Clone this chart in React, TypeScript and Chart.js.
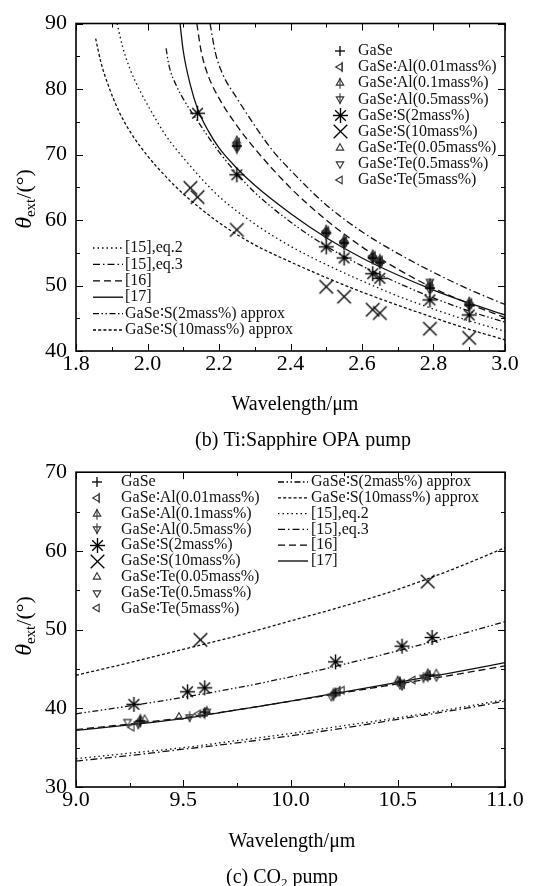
import React, { useEffect, useRef } from "react";
import { Chart, registerables } from "chart.js";

Chart.register(...registerables);

const FONT = "'Liberation Serif', 'Times New Roman', serif";

// ---------------- (b) Ti:Sapphire OPA pump ----------------
const bEq2X = [1.915, 1.93, 1.95, 1.98, 2.0, 2.05, 2.1, 2.2, 2.3, 2.4, 2.5, 2.6, 2.7, 2.8, 2.9, 3.0];
const bEq2Y = [90, 86.5, 83.2, 79.6, 77.6, 73.0, 69.5, 63.6, 59.4, 56.0, 53.2, 50.7, 48.4, 46.4, 44.6, 43.0];
const bEq3X = [2.175, 2.19, 2.21, 2.25, 2.3, 2.35, 2.4, 2.5, 2.6, 2.7, 2.8, 2.9, 3.0];
const bEq3Y = [90, 85.5, 82.3, 78.6, 74.4, 70.6, 67.6, 62.3, 58.2, 54.9, 52.0, 49.4, 47.1];
const b16X = [2.138, 2.15, 2.17, 2.2, 2.25, 2.3, 2.4, 2.5, 2.6, 2.7, 2.8, 2.9, 3.0];
const b16Y = [90, 85.8, 82.0, 78.6, 74.4, 70.9, 64.9, 60.0, 55.9, 52.5, 49.6, 47.2, 45.1];
const b17X = [2.091, 2.1, 2.12, 2.14, 2.17, 2.2, 2.25, 2.3, 2.4, 2.5, 2.6, 2.7, 2.8, 2.9, 3.0];
const b17Y = [90, 85.8, 80.6, 77.0, 73.6, 71.0, 67.9, 65.3, 61.0, 57.3, 54.2, 51.6, 49.3, 47.3, 45.5];
const bS2X = [2.052, 2.06, 2.08, 2.1, 2.15, 2.2, 2.25, 2.3, 2.4, 2.5, 2.6, 2.7, 2.8, 2.9, 3.0];
const bS2Y = [86.2, 83.6, 80.6, 78.5, 74.3, 70.4, 67.1, 64.2, 59.7, 56.0, 53.0, 50.4, 48.1, 46.1, 44.4];
const bS10X = [1.855, 1.87, 1.89, 1.92, 1.95, 2.0, 2.05, 2.1, 2.2, 2.3, 2.4, 2.5, 2.6, 2.7, 2.8, 2.9, 3.0];
const bS10Y = [87.7, 84.0, 80.6, 76.6, 73.6, 69.8, 66.7, 64.0, 59.6, 56.2, 53.6, 51.2, 49.0, 47.0, 45.1, 43.3, 41.7];

const bMarkX = [2.25, 2.5, 2.55, 2.63, 2.65, 2.79, 2.9];
const bGaSeY = [71.3, 58.0, 56.5, 54.2, 53.5, 49.6, 47.0];
const bAl001Y = [71.8, 58.3, 56.8, 54.5, 53.8, 50.0, 47.3];
const bAl01Y = [72.1, 58.5, 57.0, 54.7, 54.0, 50.3, 47.5];
const bAl05Y = [70.9, 57.7, 56.2, 54.0, 53.3, 49.3, 46.8];
const bTe005Y = [71.6, 58.2, 56.7, 54.4, 53.7, 49.9, 47.2];
const bTe05Y = [71.1, 57.9, 56.4, 54.1, 53.4, 50.6, 47.0];
const bTe5Y = [71.4, 58.1, 56.6, 54.3, 53.6, 49.7, 47.1];
const bS2PX = [2.14, 2.25, 2.5, 2.55, 2.63, 2.65, 2.79, 2.9];
const bS2PY = [76.3, 66.9, 55.9, 54.2, 51.8, 51.1, 47.8, 45.5];
const bS10PX = [2.12, 2.14, 2.25, 2.5, 2.55, 2.63, 2.65, 2.79, 2.9];
const bS10PY = [64.9, 63.5, 58.5, 49.8, 48.3, 46.3, 45.8, 43.4, 42.0];

// ---------------- (c) CO2 pump ----------------
const cX = [9.0, 9.25, 9.5, 9.75, 10.0, 10.25, 10.5, 10.75, 11.0];
const cS10Y = [44.2, 45.8, 47.5, 49.2, 51.1, 53.0, 55.1, 57.6, 60.4];
const cS2Y = [39.3, 40.3, 41.4, 42.6, 44.0, 45.6, 47.3, 49.1, 51.0];
const c17Y = [37.2, 37.9, 38.7, 39.8, 40.9, 42.1, 43.3, 44.5, 45.8];
const c16Y = [37.3, 38.0, 38.8, 39.8, 40.9, 42.0, 43.1, 44.2, 45.4];
const cEq2Y = [33.6, 34.3, 35.0, 35.9, 36.8, 37.8, 38.8, 39.9, 41.1];
const cEq3Y = [33.3, 34.0, 34.8, 35.6, 36.5, 37.5, 38.6, 39.7, 40.9];

const cGaSeX = [9.3, 9.6, 10.21, 10.51, 10.65];
const cGaSeY = [38.4, 39.5, 42.0, 43.4, 44.2];
const cAl001X = [9.29, 9.59, 10.22, 10.52, 10.63];
const cAl001Y = [38.2, 39.3, 42.2, 43.1, 44.0];
const cAl01X = [9.3, 9.61, 10.2, 10.5, 10.64];
const cAl01Y = [38.6, 39.6, 41.9, 43.5, 44.4];
const cAl05X = [9.29, 9.53, 10.2, 10.52, 10.62];
const cAl05Y = [38.0, 38.9, 41.6, 42.9, 43.9];
const cTe005X = [9.32, 9.48, 10.21, 10.51, 10.68];
const cTe005Y = [38.6, 38.9, 41.9, 43.3, 44.4];
const cTe05X = [9.24, 9.61, 10.19, 10.51, 10.68];
const cTe05Y = [38.3, 39.6, 41.5, 43.0, 44.0];
const cTe5X = [9.26, 9.57, 10.24, 10.57, 10.63];
const cTe5Y = [37.6, 39.3, 42.3, 43.6, 44.1];
const cS2PX = [9.27, 9.52, 9.6, 10.21, 10.52, 10.66];
const cS2PY = [40.5, 42.1, 42.6, 45.9, 47.9, 49.0];
const cS10PX = [9.58, 10.64];
const cS10PY = [48.7, 56.1];

// ---------------- labels ----------------
const MARKER_KINDS = ["plus", "alLeft", "alUp", "alDown", "star", "cross", "triUp", "triDown", "triLeft"];
const MARKER_LABELS = [
  "GaSe",
  "GaSe∶Al(0.01mass%)",
  "GaSe∶Al(0.1mass%)",
  "GaSe∶Al(0.5mass%)",
  "GaSe∶S(2mass%)",
  "GaSe∶S(10mass%)",
  "GaSe∶Te(0.05mass%)",
  "GaSe∶Te(0.5mass%)",
  "GaSe∶Te(5mass%)",
];
const LBL_EQ2 = "[15],eq.2";
const LBL_EQ3 = "[15],eq.3";
const LBL_16 = "[16]";
const LBL_17 = "[17]";
const LBL_S2 = "GaSe∶S(2mass%) approx";
const LBL_S10 = "GaSe∶S(10mass%) approx";

const DASH: Record<string, number[]> = {
  [LBL_EQ2]: [1.5, 3],
  [LBL_EQ3]: [7, 3, 1.5, 3],
  [LBL_16]: [7, 4],
  [LBL_17]: [],
  [LBL_S2]: [6, 2.5, 1.5, 2.5, 1.5, 2.5],
  [LBL_S10]: [3, 2.2],
};

function makeMarker(kind: string): HTMLCanvasElement {
  const big = kind === "star" || kind === "cross";
  const s = big ? 17 : 12;
  const c = document.createElement("canvas");
  c.width = s;
  c.height = s;
  const g = c.getContext("2d")!;
  const m = s / 2;
  g.strokeStyle = big || kind === "plus" ? "#000" : "#333";
  g.fillStyle = "#000";
  g.lineWidth = 1.1;
  const tri = (rot: number, r: number) => {
    g.beginPath();
    for (let k = 0; k < 3; k++) {
      const a = rot + (k * 2 * Math.PI) / 3;
      const px = m + r * Math.sin(a);
      const py = m - r * Math.cos(a);
      if (k) g.lineTo(px, py);
      else g.moveTo(px, py);
    }
    g.closePath();
    g.stroke();
  };
  const seg = (x1: number, y1: number, x2: number, y2: number) => {
    g.beginPath();
    g.moveTo(x1, y1);
    g.lineTo(x2, y2);
    g.stroke();
  };
  const r = 4.3;
  switch (kind) {
    case "plus":
      g.lineWidth = 1.3;
      seg(m - 5, m, m + 5, m);
      seg(m, m - 5, m, m + 5);
      break;
    case "alLeft":
      tri(-Math.PI / 2, r);
      seg(m + r / 2, m - r - 1, m + r / 2, m + r + 1);
      break;
    case "alUp":
      tri(0, r);
      seg(m, m - r - 1, m, m + r + 1.5);
      break;
    case "alDown":
      tri(Math.PI, r);
      seg(m, m - r - 1.5, m, m + r + 1);
      break;
    case "triUp":
      tri(0, r);
      break;
    case "triDown":
      tri(Math.PI, r);
      break;
    case "triLeft":
      tri(-Math.PI / 2, r);
      break;
    case "star": {
      g.lineWidth = 1.4;
      const R = 7.5;
      for (let k = 0; k < 4; k++) {
        const a = (k * Math.PI) / 4;
        seg(m - R * Math.cos(a), m - R * Math.sin(a), m + R * Math.cos(a), m + R * Math.sin(a));
      }
      g.beginPath();
      g.arc(m, m, 1.8, 0, Math.PI * 2);
      g.fill();
      break;
    }
    case "cross": {
      g.lineWidth = 1.3;
      const R = 6.8;
      seg(m - R, m - R, m + R, m + R);
      seg(m - R, m + R, m + R, m - R);
      break;
    }
  }
  return c;
}

type Seg = { t: string; size: number; italic?: boolean; dy?: number };

function drawRich(ctx: CanvasRenderingContext2D, segs: Seg[], cx: number, y: number) {
  const fontOf = (s: Seg) => `${s.italic ? "italic " : ""}${s.size}px ${FONT}`;
  let total = 0;
  for (const s of segs) {
    ctx.font = fontOf(s);
    total += ctx.measureText(s.t).width;
  }
  let x = cx - total / 2;
  ctx.textAlign = "left";
  ctx.textBaseline = "alphabetic";
  for (const s of segs) {
    ctx.font = fontOf(s);
    ctx.fillText(s.t, x, y + (s.dy || 0));
    x += ctx.measureText(s.t).width;
  }
}

const decoPlugin = {
  id: "deco",
  afterDraw(chart: any) {
    const o = chart.options.plugins.deco;
    if (!o) return;
    const { ctx, chartArea: a, scales } = chart;
    const xs = scales.x;
    const ys = scales.y;
    ctx.save();
    ctx.strokeStyle = "#000";
    ctx.lineWidth = 1;
    const seg = (x1: number, y1: number, x2: number, y2: number) => {
      ctx.beginPath();
      ctx.moveTo(x1, y1);
      ctx.lineTo(x2, y2);
      ctx.stroke();
    };
    const nx = Math.round((o.xMax - o.xMin) / o.xMinor);
    const perX = Math.round(o.xStep / o.xMinor);
    for (let i = 0; i <= nx; i++) {
      const px = Math.round(xs.getPixelForValue(o.xMin + i * o.xMinor)) + 0.5;
      const len = i % perX === 0 ? 7 : 4;
      seg(px, a.bottom, px, a.bottom - len);
      seg(px, a.top, px, a.top + len);
    }
    const ny = Math.round((o.yMax - o.yMin) / o.yMinor);
    const perY = Math.round(o.yStep / o.yMinor);
    for (let i = 0; i <= ny; i++) {
      const py = Math.round(ys.getPixelForValue(o.yMin + i * o.yMinor)) + 0.5;
      const len = i % perY === 0 ? 7 : 4;
      seg(a.left, py, a.left + len, py);
      seg(a.right, py, a.right - len, py);
    }
    ctx.lineWidth = 1.6;
    ctx.strokeRect(a.left, a.top, a.right - a.left, a.bottom - a.top);

    // legends
    ctx.fillStyle = "#111";
    ctx.font = `16px ${FONT}`;
    ctx.textBaseline = "middle";
    ctx.textAlign = "left";
    const mk = o.markerLegend;
    mk.items.forEach((it: any, i: number) => {
      const y = mk.y0 + i * mk.dy;
      const img: HTMLCanvasElement = it.img;
      ctx.drawImage(img, Math.round(mk.x - img.width / 2), Math.round(y - img.height / 2));
      ctx.fillText(it.label, mk.textX, y);
    });
    const ln = o.lineLegend;
    ln.items.forEach((label: string, i: number) => {
      const y = ln.y0 + i * ln.dy;
      ctx.save();
      ctx.lineWidth = 1.3;
      ctx.setLineDash(DASH[label]);
      seg(ln.x1, y, ln.x2, y);
      ctx.restore();
      ctx.fillText(label, ln.textX, y);
    });

    // titles
    ctx.fillStyle = "#000";
    drawRich(ctx, [{ t: "Wavelength/μm", size: 20 }], o.xTitle.x, o.xTitle.y);
    drawRich(ctx, o.caption.segs, o.caption.x, o.caption.y);
    ctx.save();
    ctx.translate(o.yTitle.x, o.yTitle.y);
    ctx.rotate(-Math.PI / 2);
    drawRich(
      ctx,
      [
        { t: "θ", size: 24, italic: true },
        { t: "ext", size: 15, dy: 4 },
        { t: "/(°)", size: 22 },
      ],
      0,
      0
    );
    ctx.restore();
    ctx.restore();
  },
};

function pts(xs: number[], ys: number[]) {
  return xs.map((x, i) => ({ x, y: ys[i] }));
}

type Spec = {
  xMin: number;
  xMax: number;
  xStep: number;
  xMinor: number;
  yMin: number;
  yMax: number;
  yStep: number;
  yMinor: number;
  padTop: number;
  curves: { label: string; xs: number[]; ys: number[] }[];
  marks: { xs: number[]; ys: number[] }[]; // in MARKER_KINDS order
  markerLegend: { x: number; textX: number; y0: number; dy: number };
  lineLegend: { x1: number; x2: number; textX: number; y0: number; dy: number; items: string[] };
  xTitle: { x: number; y: number };
  yTitle: { x: number; y: number };
  caption: { x: number; y: number; segs: Seg[] };
};

function buildConfig(spec: Spec): any {
  const imgs = MARKER_KINDS.map(makeMarker);
  const datasets: any[] = [];
  spec.curves.forEach((c) => {
    datasets.push({
      type: "line",
      label: c.label,
      data: pts(c.xs, c.ys),
      borderColor: "#111",
      borderWidth: 1.3,
      borderDash: DASH[c.label],
      pointRadius: 0,
      fill: false,
      cubicInterpolationMode: "monotone",
      order: 2,
    });
  });
  spec.marks.forEach((m, i) => {
    datasets.push({
      type: "line",
      label: MARKER_LABELS[i],
      data: pts(m.xs, m.ys),
      showLine: false,
      pointStyle: imgs[i],
      pointRadius: 4,
      order: 1,
    });
  });
  const tickFont = { family: FONT, size: 22 };
  return {
    type: "line",
    data: { datasets },
    options: {
      animation: false,
      responsive: false,
      events: [],
      layout: { padding: { left: 40, right: 37, top: spec.padTop, bottom: 69 } },
      scales: {
        x: {
          type: "linear",
          min: spec.xMin,
          max: spec.xMax,
          grid: { display: false, drawTicks: false },
          border: { display: false },
          ticks: {
            stepSize: spec.xStep,
            autoSkip: false,
            maxRotation: 0,
            padding: 0,
            color: "#000",
            font: tickFont,
            callback: (v: any) => Number(v).toFixed(1),
          },
          afterFit: (s: any) => {
            s.height = 30;
          },
        },
        y: {
          type: "linear",
          min: spec.yMin,
          max: spec.yMax,
          grid: { display: false, drawTicks: false },
          border: { display: false },
          ticks: {
            stepSize: spec.yStep,
            autoSkip: false,
            padding: 9,
            color: "#000",
            font: tickFont,
            callback: (v: any) => String(Math.round(Number(v))),
          },
          afterFit: (s: any) => {
            s.width = 36;
          },
        },
      },
      plugins: {
        legend: { display: false },
        tooltip: { enabled: false },
        deco: {
          xMin: spec.xMin,
          xMax: spec.xMax,
          xStep: spec.xStep,
          xMinor: spec.xMinor,
          yMin: spec.yMin,
          yMax: spec.yMax,
          yStep: spec.yStep,
          yMinor: spec.yMinor,
          markerLegend: {
            ...spec.markerLegend,
            items: MARKER_LABELS.map((label, i) => ({ label, img: imgs[i] })),
          },
          lineLegend: spec.lineLegend,
          xTitle: spec.xTitle,
          yTitle: spec.yTitle,
          caption: spec.caption,
        },
      },
    },
    plugins: [decoPlugin],
  };
}

const specB: Spec = {
  xMin: 1.8,
  xMax: 3.0,
  xStep: 0.2,
  xMinor: 0.1,
  yMin: 40,
  yMax: 90,
  yStep: 10,
  yMinor: 5,
  padTop: 23.5,
  curves: [
    { label: LBL_EQ2, xs: bEq2X, ys: bEq2Y },
    { label: LBL_EQ3, xs: bEq3X, ys: bEq3Y },
    { label: LBL_16, xs: b16X, ys: b16Y },
    { label: LBL_17, xs: b17X, ys: b17Y },
    { label: LBL_S2, xs: bS2X, ys: bS2Y },
    { label: LBL_S10, xs: bS10X, ys: bS10Y },
  ],
  marks: [
    { xs: bMarkX, ys: bGaSeY },
    { xs: bMarkX, ys: bAl001Y },
    { xs: bMarkX, ys: bAl01Y },
    { xs: bMarkX, ys: bAl05Y },
    { xs: bS2PX, ys: bS2PY },
    { xs: bS10PX, ys: bS10PY },
    { xs: bMarkX, ys: bTe005Y },
    { xs: bMarkX, ys: bTe05Y },
    { xs: bMarkX, ys: bTe5Y },
  ],
  markerLegend: { x: 340, textX: 358, y0: 51, dy: 16.1 },
  lineLegend: { x1: 93, x2: 123, textX: 125, y0: 248, dy: 16.4, items: [LBL_EQ2, LBL_EQ3, LBL_16, LBL_17, LBL_S2, LBL_S10] },
  xTitle: { x: 295, y: 410 },
  yTitle: { x: 31, y: 199 },
  caption: { x: 303, y: 446, segs: [{ t: "(b) Ti:Sapphire OPA pump", size: 20 }] },
};

const specC: Spec = {
  xMin: 9.0,
  xMax: 11.0,
  xStep: 0.5,
  xMinor: 0.25,
  yMin: 30,
  yMax: 70,
  yStep: 10,
  yMinor: 5,
  padTop: 15,
  curves: [
    { label: LBL_S10, xs: cX, ys: cS10Y },
    { label: LBL_S2, xs: cX, ys: cS2Y },
    { label: LBL_17, xs: cX, ys: c17Y },
    { label: LBL_16, xs: cX, ys: c16Y },
    { label: LBL_EQ2, xs: cX, ys: cEq2Y },
    { label: LBL_EQ3, xs: cX, ys: cEq3Y },
  ],
  marks: [
    { xs: cGaSeX, ys: cGaSeY },
    { xs: cAl001X, ys: cAl001Y },
    { xs: cAl01X, ys: cAl01Y },
    { xs: cAl05X, ys: cAl05Y },
    { xs: cS2PX, ys: cS2PY },
    { xs: cS10PX, ys: cS10PY },
    { xs: cTe005X, ys: cTe005Y },
    { xs: cTe05X, ys: cTe05Y },
    { xs: cTe5X, ys: cTe5Y },
  ],
  markerLegend: { x: 97, textX: 121, y0: 32, dy: 15.8 },
  lineLegend: { x1: 278, x2: 308, textX: 311, y0: 32, dy: 15.8, items: [LBL_S2, LBL_S10, LBL_EQ2, LBL_EQ3, LBL_16, LBL_17] },
  xTitle: { x: 292, y: 397 },
  yTitle: { x: 31, y: 176 },
  caption: {
    x: 282,
    y: 433,
    segs: [
      { t: "(c) CO", size: 20 },
      { t: "2", size: 13, dy: 4 },
      { t: " pump", size: 20 },
    ],
  },
};

function Panel({ top, height, spec }: { top: number; height: number; spec: Spec }) {
  const ref = useRef<HTMLCanvasElement>(null);
  useEffect(() => {
    const chart = new Chart(ref.current!, buildConfig(spec));
    return () => chart.destroy();
  }, [spec]);
  return (
    <canvas
      ref={ref}
      width={542}
      height={height}
      style={{ position: "absolute", left: 0, top, display: "block" }}
    />
  );
}

export default function App() {
  return (
    <div style={{ position: "absolute", left: 0, top: 0, width: 542, height: 886, background: "#fff" }}>
      <Panel top={0} height={450} spec={specB} />
      <Panel top={450} height={436} spec={specC} />
    </div>
  );
}
